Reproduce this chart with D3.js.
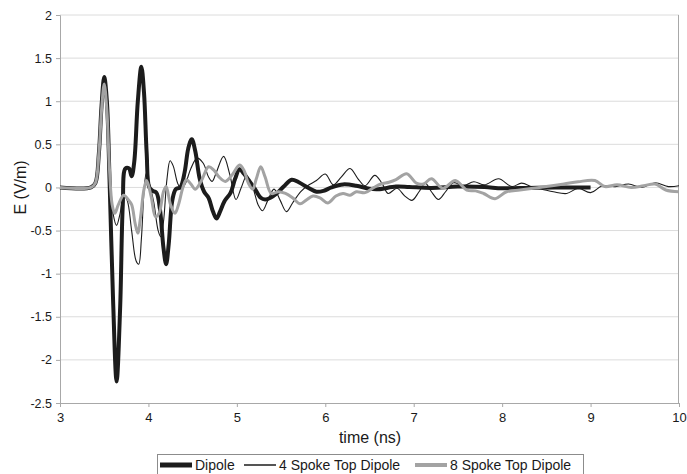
<!DOCTYPE html>
<html>
<head>
<meta charset="utf-8">
<title>E field vs time</title>
<style>
  body { margin: 0; background: #fff; }
  text { font-family: "Liberation Sans", Arial, sans-serif; fill: #1a1a1a; }
</style>
</head>
<body>
<script src="https://cdn.jsdelivr.net/npm/d3@7"></script>
<script>

// series names
var seriesNames = ["Dipole", "4 Spoke Top Dipole", "8 Spoke Top Dipole"];

// Dipole
var dipoleT = [3.0, 3.35, 3.40, 3.44, 3.47, 3.50, 3.53, 3.56, 3.60, 3.64, 3.68, 3.71, 3.74, 3.78, 3.81, 3.84, 3.88, 3.92, 3.95, 3.98,
  4.01, 4.05, 4.09, 4.13, 4.17, 4.20, 4.23, 4.27, 4.31, 4.36, 4.41, 4.45, 4.49, 4.53, 4.58, 4.63, 4.68, 4.73, 4.77, 4.81,
  4.86, 4.93, 4.98, 5.03, 5.08, 5.13, 5.20, 5.27, 5.32, 5.38, 5.45, 5.53, 5.62, 5.70, 5.80, 5.90, 5.98, 6.07, 6.20, 6.35,
  6.50, 6.60, 6.80, 6.95, 7.20, 7.50, 7.80, 8.00, 8.30, 8.60, 9.00];
var dipoleE = [0, 0, 0.05, 0.4, 0.95, 1.28, 1.0, 0.1, -1.3, -2.25, -1.4, -0.2, 0.22, 0.22, 0.13, 0.3, 1.0, 1.40, 1.1, 0.4,
  0.0, -0.04, -0.06, -0.25, -0.7, -0.89, -0.65, -0.15, -0.02, 0.0, 0.18, 0.45, 0.56, 0.42, 0.1, -0.05, -0.12, -0.28, -0.36, -0.28,
  -0.16, -0.06, 0.1, 0.21, 0.16, 0.09, -0.01, -0.12, -0.14, -0.12, -0.07, 0.01, 0.09, 0.06, 0.0, -0.05, -0.04, 0.0, 0.035, 0.02,
  -0.015, -0.02, 0.01, 0.005, -0.005, 0.01, 0.005, -0.01, -0.005, 0.0, 0.0];

// 4 Spoke Top Dipole
var spoke4T = [3.0, 3.35, 3.40, 3.44, 3.47, 3.50, 3.53, 3.56, 3.60, 3.64, 3.68, 3.72, 3.76, 3.81, 3.86, 3.89, 3.92, 3.95, 3.975, 4.01,
  4.06, 4.11, 4.14, 4.17, 4.21, 4.245, 4.28, 4.33, 4.37, 4.42, 4.48, 4.55, 4.62, 4.68, 4.72, 4.77, 4.85, 4.92, 4.99, 5.05,
  5.11, 5.18, 5.24, 5.29, 5.35, 5.42, 5.49, 5.56, 5.63, 5.72, 5.80, 5.90, 6.00, 6.09, 6.18, 6.28, 6.37, 6.45, 6.56, 6.64,
  6.71, 6.81, 6.90, 6.98, 7.06, 7.13, 7.20, 7.28, 7.36, 7.45, 7.56, 7.68, 7.80, 7.96, 8.11, 8.22, 8.35, 8.45, 8.58, 8.73,
  8.86, 9.00, 9.13, 9.28, 9.43, 9.58, 9.73, 9.88, 10.0];
var spoke4E = [0, 0, 0.05, 0.4, 0.9, 1.22, 0.95, 0.3, -0.3, -0.44, -0.3, -0.09, -0.15, -0.5, -0.85, -0.89, -0.6, -0.05, 0.16, 0.05,
  -0.17, -0.5, -0.57, -0.4, 0.1, 0.31, 0.25, 0.05, -0.02, 0.05, 0.22, 0.34, 0.28, 0.12, 0.07, 0.18, 0.36, 0.15, -0.14, 0.0,
  0.13, 0.0, -0.2, -0.27, -0.15, -0.02, -0.15, -0.28, -0.18, -0.05, 0.02, 0.08, 0.155, 0.03, 0.12, 0.22, 0.1, 0.02, 0.14, 0.05,
  -0.07, -0.01, -0.1, -0.15, -0.05, 0.05, -0.05, -0.14, -0.05, 0.055, 0.02, 0.066, 0.03, 0.1, 0.01, 0.05, 0.0, -0.02, -0.05, -0.07,
  -0.01, -0.06, 0.016, 0.01, 0.04, 0.0, 0.055, 0.01, 0.02];

// 8 Spoke Top Dipole
var spoke8T = [3.0, 3.35, 3.40, 3.44, 3.47, 3.50, 3.53, 3.56, 3.59, 3.62, 3.66, 3.72, 3.77, 3.81, 3.85, 3.88, 3.91, 3.95, 3.98, 4.03,
  4.08, 4.12, 4.17, 4.20, 4.25, 4.30, 4.34, 4.39, 4.43, 4.48, 4.53, 4.60, 4.68, 4.74, 4.80, 4.87, 4.95, 5.03, 5.08, 5.13,
  5.18, 5.22, 5.27, 5.32, 5.39, 5.47, 5.55, 5.63, 5.715, 5.78, 5.86, 5.94, 6.03, 6.12, 6.20, 6.28, 6.35, 6.45, 6.55, 6.63,
  6.72, 6.80, 6.92, 7.03, 7.11, 7.20, 7.33, 7.47, 7.60, 7.70, 7.79, 7.92, 8.05, 8.20, 8.35, 8.50, 8.70, 8.86, 9.05, 9.16,
  9.30, 9.46, 9.60, 9.73, 9.85, 10.0];
var spoke8E = [0, 0, 0.05, 0.4, 0.9, 1.2, 0.9, 0.2, -0.2, -0.3, -0.2, -0.09, -0.14, -0.2, -0.42, -0.53, -0.35, -0.02, 0.08, -0.1,
  -0.34, -0.3, -0.05, 0.01, -0.2, -0.3, -0.2, 0.0, 0.09, 0.04, -0.02, 0.08, 0.24, 0.2, 0.12, 0.07, 0.15, 0.26, 0.2, 0.05,
  -0.02, 0.1, 0.24, 0.12, -0.07, -0.05, -0.07, -0.12, -0.19, -0.15, -0.1, -0.12, -0.18, -0.1, -0.07, -0.09, -0.05, -0.06, 0.0, 0.04,
  0.06, 0.09, 0.16, 0.05, 0.04, 0.1, -0.01, 0.08, -0.03, -0.04, -0.07, -0.13, -0.05, -0.03, -0.01, 0.01, 0.04, 0.066, 0.08, 0.01,
  0.03, 0.0, 0.02, 0.04, -0.03, -0.05];

// tick values
var xTicks = [3, 4, 5, 6, 7, 8, 9, 10];
var yTicks = [-2.5, -2, -1.5, -1, -0.5, 0, 0.5, 1, 1.5, 2];

var W = 687, H = 474;
var margin = {top: 15, right: 8, bottom: 71, left: 60};

var svg = d3.select("body").append("svg")
  .attr("width", W)
  .attr("height", H);

var xScale = d3.scaleLinear().domain([3, 10]).range([margin.left, W - margin.right]);
var yScale = d3.scaleLinear().domain([-2.5, 2]).range([H - margin.bottom, margin.top]);

// horizontal gridlines
svg.append("g").selectAll("line")
  .data(yTicks.filter(function(d){ return d > -2.5; }))
  .enter().append("line")
  .attr("x1", xScale(3)).attr("x2", xScale(10))
  .attr("y1", function(d){ return yScale(d); })
  .attr("y2", function(d){ return yScale(d); })
  .attr("stroke", "#dcdcdc")
  .attr("stroke-width", 1);

// right border of plot area
svg.append("line")
  .attr("x1", xScale(10) - 0.5).attr("x2", xScale(10) - 0.5)
  .attr("y1", yScale(2)).attr("y2", yScale(-2.5))
  .attr("stroke", "#a8a8a8");

// axes
var xAxis = svg.append("g")
  .attr("transform", "translate(0," + yScale(-2.5) + ")")
  .call(d3.axisBottom(xScale).tickValues(xTicks).tickSize(4).tickPadding(6).tickFormat(d3.format("d")));

var yAxis = svg.append("g")
  .attr("transform", "translate(" + xScale(3) + ",0)")
  .call(d3.axisLeft(yScale).tickValues(yTicks).tickSize(4).tickPadding(4).tickFormat(function(d){ return String(d); }));

[xAxis, yAxis].forEach(function(a){
  a.select(".domain").attr("stroke", "#a8a8a8");
  a.selectAll(".tick line").attr("stroke", "#a8a8a8");
  a.selectAll("text")
    .style("font-family", "'Liberation Sans', Arial, sans-serif")
    .attr("fill", "#1a1a1a");
});
xAxis.selectAll("text").style("font-size", "13px");
yAxis.selectAll("text").style("font-size", "12.5px");

// axis titles
svg.append("text")
  .attr("x", 370).attr("y", 443)
  .attr("text-anchor", "middle")
  .style("font-size", "16px")
  .text("time (ns)");

svg.append("text")
  .attr("transform", "translate(26," + yScale(0) + ") rotate(-90)")
  .attr("text-anchor", "middle")
  .style("font-size", "16px")
  .text("E (V/m)");

// lines
var styles = [
  {stroke: "#1c1c1c", width: 4},
  {stroke: "#1c1c1c", width: 1.1},
  {stroke: "#a3a3a3", width: 3}
];

var series = [
  d3.zip(dipoleT, dipoleE),
  d3.zip(spoke4T, spoke4E),
  d3.zip(spoke8T, spoke8E)
];

var line = d3.line()
  .x(function(d){ return xScale(d[0]); })
  .y(function(d){ return yScale(d[1]); })
  .curve(d3.curveCatmullRom.alpha(0.5));

svg.append("g").selectAll("path")
  .data(series)
  .enter().append("path")
  .attr("d", line)
  .attr("fill", "none")
  .attr("stroke", function(d, i){ return styles[i].stroke; })
  .attr("stroke-width", function(d, i){ return styles[i].width; })
  .attr("stroke-linejoin", "round");

// legend
var legendX = [160, 244, 415];
var legend = svg.append("g");
legend.append("rect")
  .attr("x", 157.5).attr("y", 454.5)
  .attr("width", 426).attr("height", 24)
  .attr("fill", "#fff")
  .attr("stroke", "#8c8c8c");

var item = legend.selectAll("g.item")
  .data(seriesNames)
  .enter().append("g")
  .attr("class", "item")
  .attr("transform", function(d, i){ return "translate(" + legendX[i] + ",465)"; });

item.append("line")
  .attr("x1", 0).attr("x2", 32)
  .attr("y1", 0).attr("y2", 0)
  .attr("stroke", function(d, i){ return styles[i].stroke; })
  .attr("stroke-width", function(d, i){ return i === 0 ? 5 : (i === 1 ? 1.5 : 4); });

item.append("text")
  .attr("x", 35).attr("y", 5)
  .style("font-size", "14px")
  .text(function(d){ return d; });

</script>
</body>
</html>
